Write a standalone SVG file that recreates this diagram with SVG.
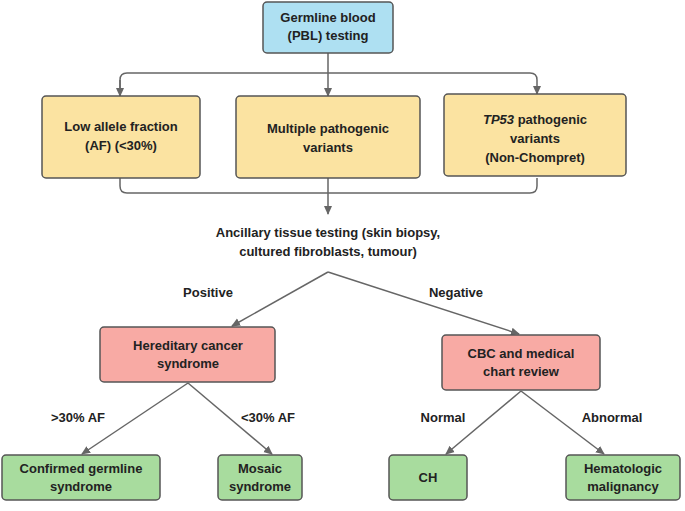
<svg xmlns="http://www.w3.org/2000/svg" width="685" height="511" viewBox="0 0 685 511">
<style>
text{font-family:"Liberation Sans",Arial,sans-serif;font-size:13px;font-weight:bold;fill:#222;text-anchor:middle}
rect{stroke:#555;stroke-width:1.5;rx:4}
.b{fill:#aee0f2}.y{fill:#fbe3a1}.r{fill:#f8aaa4}.g{fill:#a8dc9e}
.c{fill:none;stroke:#666;stroke-width:1.5}
</style>
<defs><marker id="a" markerWidth="10" markerHeight="10" refX="8" refY="5" orient="auto" markerUnits="userSpaceOnUse"><path d="M0,1 L9,5 L0,9 z" fill="#666"/></marker></defs>
<g id="connectors">
<path class="c" d="M328,53 V73"/>
<path class="c" d="M120,96 V80 Q120,73 127,73 H530 Q537,73 537,80 V94" marker-end="url(#a)"/>
<path class="c" d="M120,80 V96" marker-end="url(#a)"/>
<path class="c" d="M328,73 V96" marker-end="url(#a)"/>
<path class="c" d="M120,178 V186 Q120,193 127,193 H530 Q537,193 537,186 V178"/>
<path class="c" d="M328,178 V214" marker-end="url(#a)"/>
<path class="c" d="M328,272 L232,326" marker-end="url(#a)"/>
<path class="c" d="M328,272 L519,334" marker-end="url(#a)"/>
<path class="c" d="M188,383 L82,454" marker-end="url(#a)"/>
<path class="c" d="M188,383 L272,454" marker-end="url(#a)"/>
<path class="c" d="M521,391 L446,454" marker-end="url(#a)"/>
<path class="c" d="M521,391 L604,454" marker-end="url(#a)"/>
</g>
<g id="n1"><rect class="b" x="263" y="2" width="130" height="51"/><text x="328" y="22">Germline blood</text><text x="328" y="40">(PBL) testing</text></g>
<g id="n2"><rect class="y" x="42" y="96" width="158" height="82"/><text x="121" y="131">Low allele fraction</text><text x="121" y="150">(AF) (&lt;30%)</text></g>
<g id="n3"><rect class="y" x="236" y="96" width="184" height="82"/><text x="328" y="133">Multiple pathogenic</text><text x="328" y="152">variants</text></g>
<g id="n4"><rect class="y" x="444" y="94" width="182" height="82"/><text x="535" y="124"><tspan font-style="italic">TP53</tspan> pathogenic</text><text x="535" y="143">variants</text><text x="535" y="162">(Non-Chompret)</text></g>
<g id="n5"><text x="328" y="237">Ancillary tissue testing (skin biopsy,</text><text x="328" y="256">cultured fibroblasts, tumour)</text></g>
<text x="208" y="297">Positive</text>
<text x="456" y="297">Negative</text>
<g id="n6"><rect class="r" x="100" y="327" width="175" height="55"/><text x="188" y="350">Hereditary cancer</text><text x="188" y="368">syndrome</text></g>
<g id="n7"><rect class="r" x="442" y="335" width="158" height="55"/><text x="521" y="358">CBC and medical</text><text x="521" y="376">chart review</text></g>
<text x="78" y="422">&gt;30% AF</text>
<text x="268" y="422">&lt;30% AF</text>
<text x="443" y="422">Normal</text>
<text x="612" y="422">Abnormal</text>
<g id="n8"><rect class="g" x="2" y="455" width="158" height="45"/><text x="81" y="473">Confirmed germline</text><text x="81" y="491">syndrome</text></g>
<g id="n9"><rect class="g" x="218" y="455" width="84" height="45"/><text x="260" y="473">Mosaic</text><text x="260" y="491">syndrome</text></g>
<g id="n10"><rect class="g" x="389" y="455" width="78" height="45"/><text x="428" y="482">CH</text></g>
<g id="n11"><rect class="g" x="566" y="455" width="114" height="45"/><text x="623" y="473">Hematologic</text><text x="623" y="491">malignancy</text></g>
</svg>
